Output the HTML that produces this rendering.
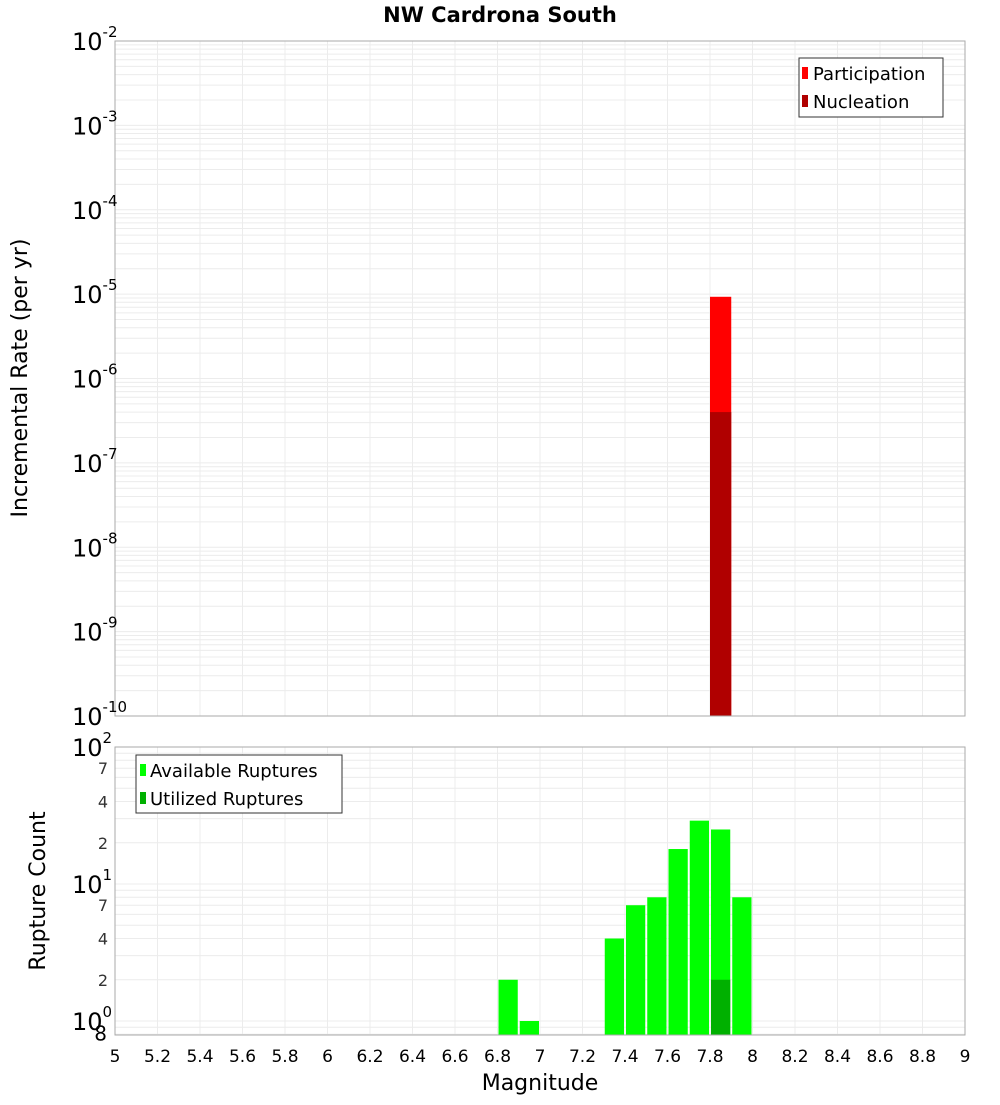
<!DOCTYPE html>
<html><head><meta charset="utf-8"><style>
body{margin:0;background:#fff;font-family:"Liberation Sans","DejaVu Sans",sans-serif}
svg text{font-family:"DejaVu Sans","Liberation Sans",sans-serif}
</style></head><body>
<svg id="c" width="1000" height="1100" xmlns="http://www.w3.org/2000/svg">
<text x="500" y="22" text-anchor="middle" font-size="21" font-weight="bold">NW Cardrona South</text>
<text transform="translate(27,378) rotate(-90)" text-anchor="middle" font-size="22">Incremental Rate (per yr)</text>
<text transform="translate(45,891) rotate(-90)" text-anchor="middle" font-size="22">Rupture Count</text>
<text x="540" y="1090" text-anchor="middle" font-size="22">Magnitude</text>
<g id="topg"></g><g id="botg"></g>
</svg>
<script>
const NS="http://www.w3.org/2000/svg";
const rateBins=[7.85];
const participation=[9.3e-6];
const nucleation=[4e-7];
const countBins=[6.85,6.95,7.35,7.45,7.55,7.65,7.75,7.85,7.95];
const available=[2,1,4,7,8,18,29,25,8];
const utilizedBins=[7.85];
const utilized=[2];
const xTicks=[5,5.2,5.4,5.6,5.8,6,6.2,6.4,6.6,6.8,7,7.2,7.4,7.6,7.8,8,8.2,8.4,8.6,8.8,9];
const topExps=[-2,-3,-4,-5,-6,-7,-8,-9,-10];
const L=115,R=965;
const X=m=>L+(m-5)/4*(R-L);
const T0=41,T1=716;
const YT=v=>T0+(-2-Math.log10(v))/8*(T1-T0);
const B0=747,B1=1035,BD=137;
const YB=v=>884-Math.log10(v/10)*BD;
function el(p,tag,a,txt){const e=document.createElementNS(NS,tag);for(const k in a)e.setAttribute(k,a[k]);if(txt!==undefined)e.textContent=txt;p.appendChild(e);return e;}
const gTop=document.getElementById('topg'),gBot=document.getElementById('botg');
for(let d=-10;d<-2;d++)for(let k=1;k<10;k++){const y=YT(k*Math.pow(10,d));
 const g=el(gTop,'line',{x1:L,x2:R,y1:y,y2:y,stroke:'#ececec','stroke-width':1});
 
 }
xTicks.forEach(m=>{const g=el(gTop,'line',{x1:X(m),x2:X(m),y1:T0,y2:T1,stroke:'#ececec'});
 
 });
rateBins.forEach((m,i)=>{
 const b=el(gTop,'rect',{x:X(m-0.05),y:YT(participation[i]),width:X(m+0.05)-X(m-0.05),height:T1-YT(participation[i]),fill:'#ff0000'});
 
 
 const n=el(gTop,'rect',{x:X(m-0.05),y:YT(nucleation[i]),width:X(m+0.05)-X(m-0.05),height:T1-YT(nucleation[i]),fill:'#b00000'});
 
 });
el(gTop,'rect',{x:L,y:T0,width:R-L,height:T1-T0,fill:'none',stroke:'#aaa'});
topExps.forEach(e=>{const y=YT(Math.pow(10,e));
 const t=el(gTop,'text',{x:72,y:y+9,'font-size':24});
 
 
 el(t,'tspan',{},'10');el(t,'tspan',{dy:-13,'font-size':15},String(e));});
const lg=el(gTop,'g',{});


el(lg,'rect',{x:799,y:58,width:144,height:59,fill:'#fff',stroke:'#333'});
el(lg,'rect',{x:802,y:67,width:6,height:12,fill:'#ff0000'});
el(lg,'text',{x:813,y:80,'font-size':18},'Participation');
el(lg,'rect',{x:802,y:95,width:6,height:12,fill:'#b00000'});
el(lg,'text',{x:813,y:108,'font-size':18},'Nucleation');
const minors=[0.8,0.9,1,2,3,4,5,6,7,8,9,10,20,30,40,50,60,70,80,90,100];
minors.forEach(v=>{const y=YB(v);const g=el(gBot,'line',{x1:L,x2:R,y1:y,y2:y,stroke:'#ececec'});
 
 });
xTicks.forEach(m=>{const g=el(gBot,'line',{x1:X(m),x2:X(m),y1:B0,y2:B1,stroke:'#ececec'});
 
 });
countBins.forEach((m,i)=>{const y=YB(available[i]);
 const b=el(gBot,'rect',{x:X(m-0.05)+1,y:y,width:X(m+0.05)-X(m-0.05)-2,height:B1-y,fill:'#00ff00'});
 
 });
utilizedBins.forEach((m,i)=>{const y=YB(utilized[i]);
 const b=el(gBot,'rect',{x:X(m-0.05)+1,y:y,width:X(m+0.05)-X(m-0.05)-2,height:B1-y,fill:'#00b000'});
 
 });
el(gBot,'rect',{x:L,y:B0,width:R-L,height:B1-B0,fill:'none',stroke:'#aaa'});
[[1,'0'],[10,'1'],[100,'2']].forEach(([v,e])=>{const y=YB(v);
 const t=el(gBot,'text',{x:72,y:y+9,'font-size':24});
 
 
 el(t,'tspan',{},'10');el(t,'tspan',{dy:-13,'font-size':15},e);});
[[2,'2'],[4,'4'],[7,'7'],[20,'2'],[40,'4'],[70,'7'],[0.8,'8']].forEach(([v,s])=>{
 const t=el(gBot,'text',{x:v<1?107:108,y:YB(v)+6,'font-size':v<1?20:16,'text-anchor':'end',fill:v<1?'#000':'#333'},s);
 
 });
const lb=el(gBot,'g',{});


el(lb,'rect',{x:136,y:755,width:206,height:58,fill:'#fff',stroke:'#333'});
el(lb,'rect',{x:140,y:764,width:6,height:12,fill:'#00ff00'});
el(lb,'text',{x:150,y:777,'font-size':18},'Available Ruptures');
el(lb,'rect',{x:140,y:792,width:6,height:12,fill:'#00b000'});
el(lb,'text',{x:150,y:805,'font-size':18},'Utilized Ruptures');
xTicks.forEach(m=>{const t=el(gBot,'text',{x:X(m),y:1062,'font-size':17,'text-anchor':'middle'},String(m));
 
 });
</script>
</body></html>
